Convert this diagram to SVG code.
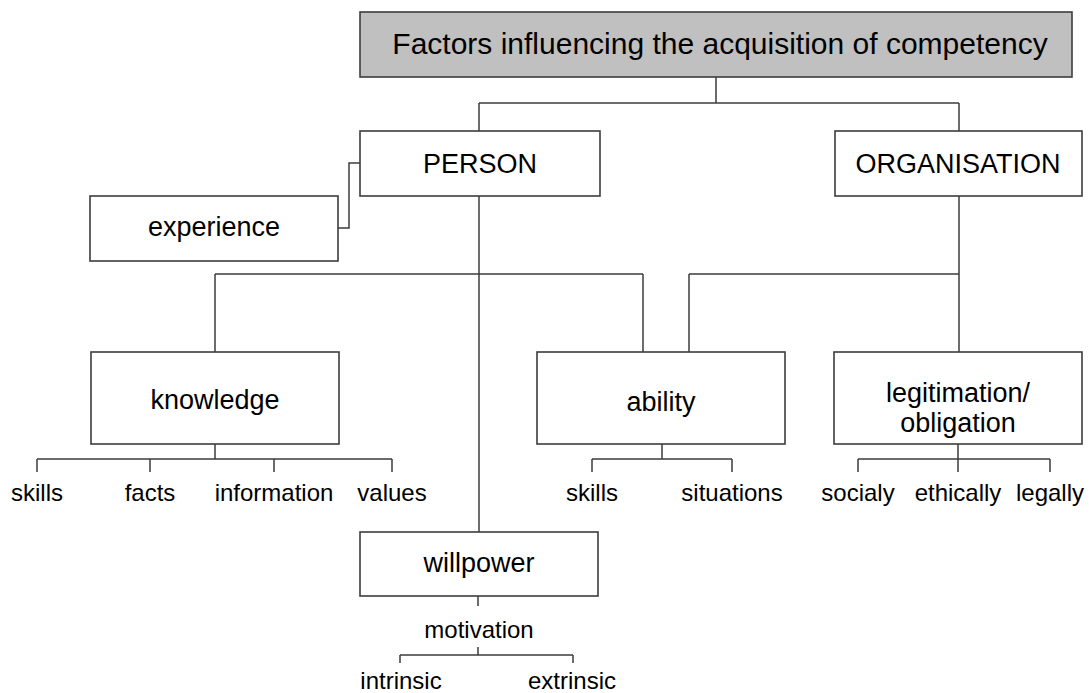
<svg xmlns="http://www.w3.org/2000/svg" width="1089" height="693" viewBox="0 0 1089 693">
  <style>
    .box { fill: #ffffff; stroke: #3c3c3c; stroke-width: 1.6; }
    .head { fill: #c0c0c0; stroke: #3c3c3c; stroke-width: 1.6; }
    .wire { fill: none; stroke: #3c3c3c; stroke-width: 1.5; }
    text { font-family: "Liberation Sans", Arial, sans-serif; fill: #000000; text-anchor: middle; }
    .t1 { font-size: 30px; }
    .t2 { font-size: 27px; }
    .t3 { font-size: 24px; }
  </style>
  <rect width="1089" height="693" fill="#ffffff"/>

  <!-- connectors -->
  <g id="connectors">
    <!-- root to PERSON / ORGANISATION -->
    <path class="wire" d="M716 77 V103 M479 103 H959 M479 103 V131 M959 103 V131"/>
    <!-- experience to PERSON -->
    <path class="wire" d="M338 228 H349 V163 H360"/>
    <!-- PERSON trunk -->
    <path class="wire" d="M479 196 V532"/>
    <path class="wire" d="M215 274 H643 M215 274 V352 M643 274 V352"/>
    <!-- ORGANISATION trunk -->
    <path class="wire" d="M959 196 V352 M689 274 H959 M689 274 V352"/>
    <!-- knowledge leaves -->
    <path class="wire" d="M215 444 V459 M37 459 H392 M37 459 V472 M150 459 V472 M274 459 V472 M392 459 V472"/>
    <!-- ability leaves -->
    <path class="wire" d="M662 444 V459 M592 459 H732 M592 459 V472 M732 459 V472"/>
    <!-- legitimation leaves -->
    <path class="wire" d="M958 444 V472 M858 459 H1050 M858 459 V472 M1050 459 V472"/>
    <!-- willpower to motivation -->
    <path class="wire" d="M478 596 V606 M478 647 V655 M400 655 H573 M400 655 V663 M573 655 V663"/>
  </g>

  <g id="root">
    <rect class="head" x="360" y="12" width="712" height="65"/>
    <text class="t1" x="720" y="54">Factors influencing the acquisition of competency</text>
  </g>

  <g id="person">
    <rect class="box" x="360" y="131" width="240" height="65"/>
    <text class="t2" x="480" y="173">PERSON</text>
  </g>

  <g id="organisation">
    <rect class="box" x="835" y="131" width="247" height="65"/>
    <text class="t2" x="958" y="173">ORGANISATION</text>
  </g>

  <g id="experience">
    <rect class="box" x="90" y="196" width="248" height="65"/>
    <text class="t2" x="214" y="236">experience</text>
  </g>

  <g id="knowledge">
    <rect class="box" x="91" y="352" width="248" height="92"/>
    <text class="t2" x="215" y="409">knowledge</text>
    <text class="t3" x="37" y="501">skills</text>
    <text class="t3" x="150" y="501">facts</text>
    <text class="t3" x="274" y="501">information</text>
    <text class="t3" x="392" y="501">values</text>
  </g>

  <g id="ability">
    <rect class="box" x="537" y="352" width="248" height="92"/>
    <text class="t2" x="661" y="411">ability</text>
    <text class="t3" x="592" y="501">skills</text>
    <text class="t3" x="732" y="501">situations</text>
  </g>

  <g id="legitimation">
    <rect class="box" x="834" y="352" width="248" height="92"/>
    <text class="t2" x="958" y="402">legitimation/</text>
    <text class="t2" x="958" y="432">obligation</text>
    <text class="t3" x="858" y="501">socialy</text>
    <text class="t3" x="958" y="501">ethically</text>
    <text class="t3" x="1050" y="501">legally</text>
  </g>

  <g id="willpower">
    <rect class="box" x="360" y="532" width="238" height="64"/>
    <text class="t2" x="479" y="572">willpower</text>
    <text class="t3" x="479" y="638">motivation</text>
    <text class="t3" x="401" y="689">intrinsic</text>
    <text class="t3" x="572" y="689">extrinsic</text>
  </g>
</svg>
